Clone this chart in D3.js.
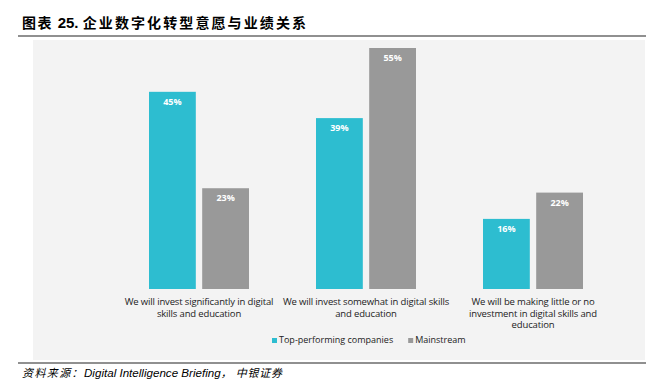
<!DOCTYPE html>
<html>
<head>
<meta charset="utf-8">
<script src="https://cdn.jsdelivr.net/npm/d3@7"></script>
<style>
	body { margin: 0; background: #fff; }
	svg { display: block; }
</style>
</head>
<body>
<script>
	var categories = [
		["We will invest significantly in digital", "skills and education"],
		["We will invest somewhat in digital skills", "and education"],
		["We will be making little or no", "investment in digital skills and", "education"]
	];
	var series = ["Top-performing companies", "Mainstream"];
	var topPerforming = [45, 39, 16];
	var mainstream = [23, 55, 22];
	var colors = ["#2dbdd0", "#999999"];

	var width = 646, height = 385;
	var labelFont = "'Open Sans', sans-serif";
	var cjkFont = "'Noto Sans CJK SC', sans-serif";

	var svg = d3.select("body").append("svg")
		.attr("width", width)
		.attr("height", height);

	// title + rules
	var title = svg.append("text")
		.attr("x", 22).attr("y", 28)
		.attr("font-weight", "bold")
		.attr("font-size", 14)
		.attr("fill", "#000");
	title.append("tspan").attr("font-family", cjkFont).attr("letter-spacing", 1.5).text("图表 ");
	title.append("tspan").attr("font-family", "'Liberation Sans', Arial, sans-serif").attr("font-size", 15).text("25. ");
	title.append("tspan").attr("font-family", cjkFont).attr("letter-spacing", 2.1).text("企业数字化转型意愿与业绩关系");

	svg.append("line").attr("x1", 18).attr("x2", 646).attr("y1", 36).attr("y2", 36)
		.attr("stroke", "#222").attr("stroke-width", 1.2);

	svg.append("rect")
		.attr("x", 33).attr("y", 40)
		.attr("width", 612).attr("height", 320)
		.attr("fill", "#f3f3f3");

	svg.append("line").attr("x1", 18).attr("x2", 646).attr("y1", 363).attr("y2", 363)
		.attr("stroke", "#222").attr("stroke-width", 1.2);

	var src = svg.append("text")
		.attr("x", 22).attr("y", 377)
		.attr("font-style", "italic")
		.attr("font-size", 11)
		.attr("fill", "#000");
	src.append("tspan").attr("font-family", cjkFont).attr("letter-spacing", 1.4).text("资料来源：");
	src.append("tspan").attr("font-family", "'Liberation Sans', Arial, sans-serif").attr("font-size", 11.6).text("Digital Intelligence Briefing");
	src.append("tspan").attr("font-family", cjkFont).attr("letter-spacing", 0.8).text("，  中银证券");

	// scales
	var x0 = d3.scaleBand().domain(d3.range(categories.length)).range([115.5, 616.5]);
	var x1 = d3.scaleBand().domain(d3.range(series.length)).range([22, 22 + 100]).paddingInner(0.12);
	var y = d3.scaleLinear().domain([0, 55]).range([289, 48]);

	var values = [topPerforming, mainstream];

	var groups = svg.selectAll("g.group")
		.data(categories)
		.enter().append("g")
		.attr("class", "group")
		.attr("transform", function(d, i) { return "translate(" + (x0(i) + x0.bandwidth() / 2 - 72) + ",0)"; });

	groups.each(function(cat, i) {
		var g = d3.select(this);
		values.forEach(function(vals, s) {
			var v = vals[i];
			g.append("rect")
				.attr("x", x1(s)).attr("y", y(v))
				.attr("width", x1.bandwidth()).attr("height", y(0) - y(v))
				.attr("fill", colors[s]);
			g.append("text")
				.attr("x", x1(s) + x1.bandwidth() / 2).attr("y", y(v) + 13)
				.attr("text-anchor", "middle")
				.attr("font-family", labelFont)
				.attr("font-weight", "bold")
				.attr("font-size", 9)
				.attr("fill", "#fff")
				.text(v + "%");
		});
		var t = g.append("text")
			.attr("text-anchor", "middle")
			.attr("font-family", labelFont)
			.attr("font-size", 9.5)
			.attr("letter-spacing", -0.15)
			.attr("fill", "#222");
		cat.forEach(function(line, k) {
			t.append("tspan").attr("x", 72).attr("y", 305 + k * 11.7).text(line);
		});
	});

	// legend
	var legend = svg.append("g").attr("transform", "translate(272,343)");
	var lx = 0;
	series.forEach(function(name, s) {
		legend.append("rect").attr("x", lx).attr("y", -5).attr("width", 5).attr("height", 5).attr("fill", colors[s]);
		var lt = legend.append("text")
			.attr("x", lx + 7).attr("y", 0)
			.attr("font-family", labelFont)
			.attr("font-size", 9)
			.attr("fill", "#222")
			.text(name);
		lx += 7 + lt.node().getComputedTextLength() + 15;
	});
</script>
</body>
</html>
